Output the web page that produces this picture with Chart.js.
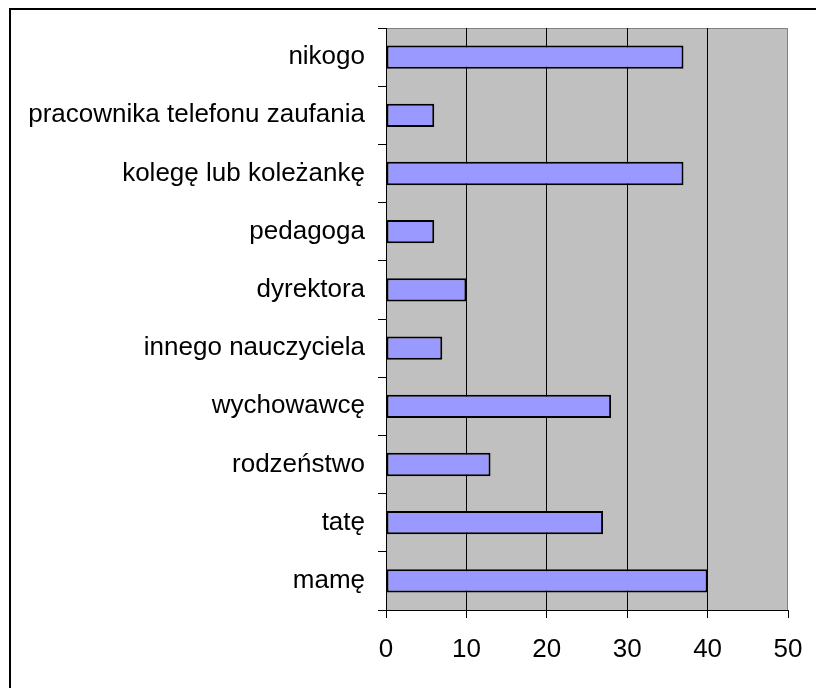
<!DOCTYPE html>
<html>
<head>
<meta charset="utf-8">
<script src="https://cdn.jsdelivr.net/npm/chart.js@4"></script>
<style>
  html, body { margin: 0; padding: 0; background: #fff; }
  #wrap { position: relative; width: 816px; height: 688px; }
</style>
</head>
<body>
<div id="wrap"><canvas id="chart" width="816" height="688"></canvas></div>
<script>
// dane (od góry do dołu)
const categories = [
  'nikogo',
  'pracownika telefonu zaufania',
  'kolegę lub koleżankę',
  'pedagoga',
  'dyrektora',
  'innego nauczyciela',
  'wychowawcę',
  'rodzeństwo',
  'tatę',
  'mamę'
];
const values = [37, 6, 37, 6, 10, 7, 28, 13, 27, 40];
const xTicks = [0, 10, 20, 30, 40, 50];

// tło obszaru wykresu + ramka
const plotBackground = {
  id: 'plotBackground',
  beforeDraw(chart) {
    const { ctx, chartArea: a } = chart;
    ctx.save();
    // ramka całego wykresu (widoczna lewa i górna krawędź)
    ctx.strokeStyle = '#000';
    ctx.lineWidth = 2;
    ctx.strokeRect(10, 9, 820, 700);
    ctx.fillStyle = '#c0c0c0';
    ctx.fillRect(a.left, a.top, a.right - a.left, a.bottom - a.top);
    ctx.strokeStyle = '#808080';
    ctx.lineWidth = 1;
    ctx.beginPath();
    ctx.moveTo(a.left, a.top + 0.5);
    ctx.lineTo(a.right - 0.5, a.top + 0.5);
    ctx.lineTo(a.right - 0.5, a.bottom);
    ctx.stroke();
    ctx.restore();
  }
};

const font = { family: '"Liberation Sans", Arial, sans-serif', size: 26 };

new Chart(document.getElementById('chart'), {
  type: 'bar',
  data: {
    labels: categories,
    datasets: [{
      data: values,
      backgroundColor: '#9999ff',
      borderColor: '#000',
      borderWidth: 2,
      borderSkipped: false,
      categoryPercentage: 1,
      barPercentage: 0.4
    }]
  },
  options: {
    indexAxis: 'y',
    responsive: false,
    animation: false,
    layout: { padding: { top: 28, right: 28, left: 0, bottom: 0 } },
    plugins: { legend: { display: false }, tooltip: { enabled: false } },
    scales: {
      x: {
        min: 0,
        max: 50,
        afterBuildTicks(scale) {
          scale.ticks = xTicks.map(v => ({ value: v }));
        },
        afterFit(scale) {
          scale.height = 688 - 610;
          scale.paddingLeft = 0;
          scale.paddingRight = 0;
        },
        grid: {
          color: c => (c.tick && (c.tick.value === 0 || c.tick.value === 50)) ? 'rgba(0,0,0,0)' : '#000',
          tickColor: '#000',
          tickLength: 8,
          lineWidth: 1
        },
        border: { color: '#000', width: 1 },
        ticks: { color: '#000', font: font, padding: 16 }
      },
      y: {
        afterFit(scale) {
          scale.width = 386;
          scale.paddingTop = 0;
          scale.paddingBottom = 0;
        },
        grid: {
          offset: true,
          drawOnChartArea: false,
          color: '#000',
          tickLength: 8
        },
        border: { color: '#000', width: 1 },
        ticks: { color: '#000', font: font, padding: 13 }
      }
    }
  },
  plugins: [plotBackground]
});
</script>
</body>
</html>
